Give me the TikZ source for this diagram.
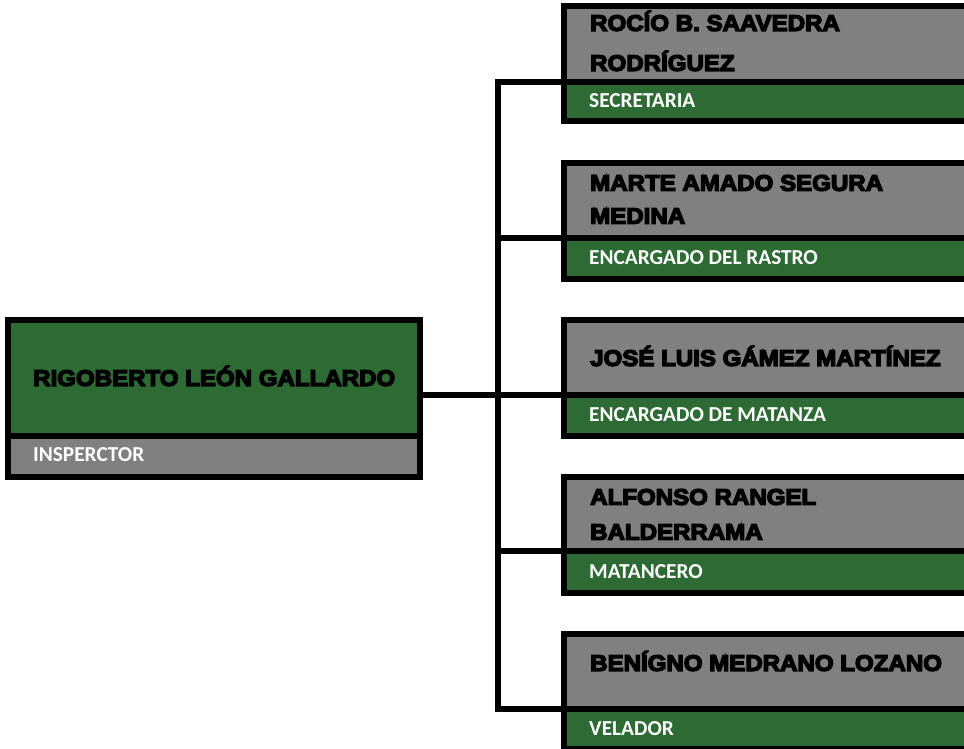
\documentclass[tikz,border=0pt]{standalone}
\usepackage{fontspec}
\newfontfamily\heavyfont{Liberation Sans Bold}[FakeBold=6,FakeStretch=1.07]
\newfontfamily\rolefont{Carlito}
\definecolor{boxgreen}{RGB}{45,106,52}
\definecolor{boxgray}{RGB}{128,128,128}
\begin{document}
\begin{tikzpicture}[x=1pt,y=-1pt,
  frame/.style={draw=black,line width=6pt,anchor=north west,inner sep=0pt,outer sep=0pt},
  graybox/.style={frame,fill=boxgray},
  greenbox/.style={frame,fill=boxgreen},
  nametxt/.style={anchor=west,inner sep=0pt,font=\heavyfont\fontsize{22.5}{26}\selectfont,text=black},
  roletxt/.style={anchor=west,inner sep=0pt,font=\rolefont\bfseries\fontsize{21.3}{24}\selectfont,text=white},
  conn/.style={draw=black,line width=6pt}]
\useasboundingbox (0,0) rectangle (964,748);
\clip (0,0) rectangle (964,748);
% main box
\node[greenbox,minimum width=412pt,minimum height=115.5pt] (mainname) at (8,320) {};
\node[graybox,minimum width=412pt,minimum height=41pt] (mainrole) at (8,435.5) {};
\node[nametxt] (t0) at (33,376) {RIGOBERTO LEÓN GALLARDO};
\node[roletxt] (r0) at (33,455) {INSPERCTOR};
% right boxes
\node[graybox,minimum width=420pt,minimum height=76.5pt] (n1) at (563.5,5.5) {};
\node[greenbox,minimum width=420pt,minimum height=39pt] (g1) at (563.5,82) {};
\node[graybox,minimum width=420pt,minimum height=75pt] (n2) at (563.5,163) {};
\node[greenbox,minimum width=420pt,minimum height=40.5pt] (g2) at (563.5,238) {};
\node[graybox,minimum width=420pt,minimum height=75pt] (n3) at (563.5,320) {};
\node[greenbox,minimum width=420pt,minimum height=40.5pt] (g3) at (563.5,395) {};
\node[graybox,minimum width=420pt,minimum height=74pt] (n4) at (563.5,477) {};
\node[greenbox,minimum width=420pt,minimum height=42pt] (g4) at (563.5,551) {};
\node[graybox,minimum width=420pt,minimum height=75pt] (n5) at (563.5,633.5) {};
\node[greenbox,minimum width=420pt,minimum height=40.5pt] (g5) at (563.5,708.5) {};
% texts
\node[nametxt] (t1a) at (590,21) {ROCÍO B. SAAVEDRA};
\node[nametxt] (t1b) at (590,61) {RODRÍGUEZ};
\node[roletxt] (r1) at (589,101) {SECRETARIA};
\node[nametxt] (t2a) at (590,183) {MARTE AMADO SEGURA};
\node[nametxt] (t2b) at (590,216) {MEDINA};
\node[roletxt] (r2) at (589,258) {ENCARGADO DEL RASTRO};
\node[nametxt] (t3) at (590,356) {JOSÉ LUIS GÁMEZ MARTÍNEZ};
\node[roletxt] (r3) at (589,415) {ENCARGADO DE MATANZA};
\node[nametxt] (t4a) at (590,497) {ALFONSO RANGEL};
\node[nametxt] (t4b) at (590,532) {BALDERRAMA};
\node[roletxt] (r4) at (589,572) {MATANCERO};
\node[nametxt] (t5) at (590,661) {BENÍGNO MEDRANO LOZANO};
\node[roletxt] (r5) at (589,729) {VELADOR};
% connectors
\coordinate (bus) at (498,395);
\draw[conn] (mainname.south east |- bus) -- (bus);
\draw[conn,line cap=rect] (bus |- g1.north west) -- (bus |- g5.north west);
\draw[conn] (bus |- g1.north west) -- (g1.north west);
\draw[conn] (bus |- g2.north west) -- (g2.north west);
\draw[conn] (bus |- g3.north west) -- (g3.north west);
\draw[conn] (bus |- g4.north west) -- (g4.north west);
\draw[conn] (bus |- g5.north west) -- (g5.north west);
\end{tikzpicture}
\end{document}
